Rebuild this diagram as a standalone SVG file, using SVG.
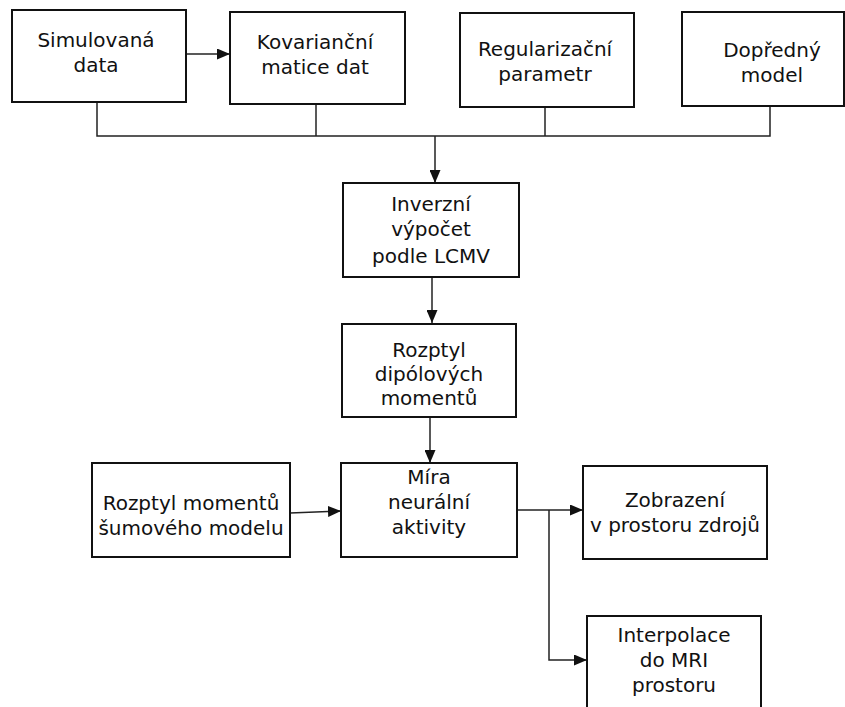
<svg xmlns="http://www.w3.org/2000/svg" width="845" height="707" viewBox="0 0 845 707">
  <style>
    .box { fill: #ffffff; stroke: #111111; stroke-width: 2; }
    .lbl { font-family: "DejaVu Sans", sans-serif; font-size: 20px; fill: #111111; text-anchor: middle; }
    .wire { fill: none; stroke: #222222; stroke-width: 1.5; }
  </style>
  <defs>
    <marker id="arrow" viewBox="0 0 13 11" refX="13" refY="5.5" markerWidth="13" markerHeight="11" markerUnits="userSpaceOnUse" orient="auto">
      <path d="M0,0 L13,5.5 L0,11 Z" fill="#111111"/>
    </marker>
  </defs>
  <rect width="845" height="707" fill="#ffffff"/>

  <g id="connectors">
    <line class="wire" x1="186" y1="54" x2="230" y2="54" marker-end="url(#arrow)"/>
    <polyline class="wire" points="97,102 97,136 770,136 770,106"/>
    <line class="wire" x1="316" y1="104" x2="316" y2="136"/>
    <line class="wire" x1="545" y1="107" x2="545" y2="136"/>
    <line class="wire" x1="435" y1="136" x2="435" y2="183" marker-end="url(#arrow)"/>
    <line class="wire" x1="432" y1="277" x2="432" y2="323" marker-end="url(#arrow)"/>
    <line class="wire" x1="430" y1="417" x2="430" y2="463" marker-end="url(#arrow)"/>
    <line class="wire" x1="290" y1="513" x2="341" y2="511" marker-end="url(#arrow)"/>
    <line class="wire" x1="517" y1="510" x2="583" y2="510" marker-end="url(#arrow)"/>
    <polyline class="wire" points="549,510 549,660 587,660" marker-end="url(#arrow)"/>
  </g>

  <g id="simulovana-data">
    <rect class="box" x="12" y="10" width="174" height="92"/>
    <text class="lbl" x="96" y="47">Simulovaná</text>
    <text class="lbl" x="96" y="72">data</text>
  </g>
  <g id="kovariancni-matice">
    <rect class="box" x="230" y="12" width="175" height="92"/>
    <text class="lbl" x="315" y="49">Kovarianční</text>
    <text class="lbl" x="315" y="74">matice dat</text>
  </g>
  <g id="regularizacni-parametr">
    <rect class="box" x="460" y="13" width="174" height="94"/>
    <text class="lbl" x="545" y="56">Regularizační</text>
    <text class="lbl" x="545" y="81">parametr</text>
  </g>
  <g id="dopredny-model">
    <rect class="box" x="682" y="12" width="162" height="94"/>
    <text class="lbl" x="772" y="57">Dopředný</text>
    <text class="lbl" x="772" y="82">model</text>
  </g>
  <g id="inverzni-vypocet">
    <rect class="box" x="343" y="183" width="176" height="94"/>
    <text class="lbl" x="431" y="211">Inverzní</text>
    <text class="lbl" x="431" y="236">výpočet</text>
    <text class="lbl" x="431" y="263">podle LCMV</text>
  </g>
  <g id="rozptyl-dipolovych">
    <rect class="box" x="342" y="324" width="174" height="93"/>
    <text class="lbl" x="429" y="357">Rozptyl</text>
    <text class="lbl" x="429" y="381">dipólových</text>
    <text class="lbl" x="429" y="405">momentů</text>
  </g>
  <g id="rozptyl-sumoveho">
    <rect class="box" x="92" y="463" width="198" height="94"/>
    <text class="lbl" x="191" y="510">Rozptyl momentů</text>
    <text class="lbl" x="191" y="535">šumového modelu</text>
  </g>
  <g id="mira-aktivity">
    <rect class="box" x="341" y="463" width="176" height="94"/>
    <text class="lbl" x="429" y="484">Míra</text>
    <text class="lbl" x="429" y="509">neurální</text>
    <text class="lbl" x="429" y="534">aktivity</text>
  </g>
  <g id="zobrazeni-zdroju">
    <rect class="box" x="583" y="466" width="184" height="93"/>
    <text class="lbl" x="675" y="507">Zobrazení</text>
    <text class="lbl" x="675" y="532">v prostoru zdrojů</text>
  </g>
  <g id="interpolace-mri">
    <rect class="box" x="587" y="616" width="174" height="100"/>
    <text class="lbl" x="674" y="642">Interpolace</text>
    <text class="lbl" x="674" y="667">do MRI</text>
    <text class="lbl" x="674" y="692">prostoru</text>
  </g>
</svg>
